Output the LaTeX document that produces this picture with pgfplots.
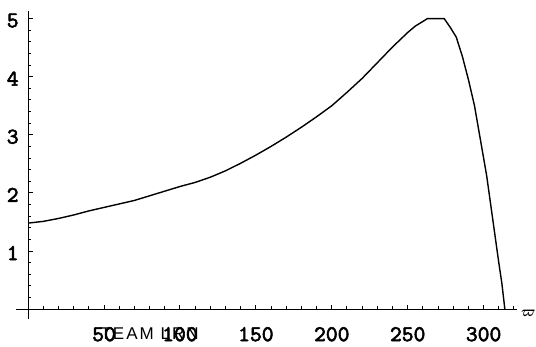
\documentclass[border=0pt]{standalone}
\usepackage{fontspec}
\usepackage{pgfplots}
\pgfplotsset{compat=1.18}
\newfontfamily\arialf{Liberation Sans}[LetterSpace=12]
\newfontfamily\tickf{lmmono10-regular.otf}[FakeBold=2.5]
\begin{document}
\begin{tikzpicture}
\begin{axis}[
 at={(0,0)}, anchor=south west,
 scale only axis, width=501pt, height=308pt,
 xmin=-8, xmax=322, ymin=-0.17, ymax=5.13,
 axis lines=middle, axis line style={-, line width=1.2pt},
 xtick={50,100,...,300}, ytick={1,2,3,4,5},
 minor xtick={10,20,...,320}, minor ytick={0.2,0.4,...,5.0},
 tick align=inside,
 major tick length=4.5pt, minor tick length=3pt,
 every tick/.style={line width=1pt, black},
 /pgf/number format/assume math mode=true,
 ticklabel style={font=\tickf\fontsize{22.5}{22.5}\selectfont},
 xticklabel style={anchor=north, yshift=-14.5pt},
 yticklabel style={anchor=east, xshift=-6pt, yshift=-2pt},
 clip=false,
]
\addplot[black, line width=1.4pt] coordinates {
(0,1.48) (10,1.51) (20,1.56) (30,1.62) (40,1.69) (50,1.75) (60,1.81)
(70,1.87) (80,1.95) (90,2.03) (100,2.11) (110,2.18) (120,2.27) (130,2.38)
(140,2.51) (150,2.65) (160,2.80) (170,2.96) (180,3.13) (190,3.31)
(200,3.50) (210,3.73) (220,3.97) (230,4.24) (240,4.51) (250,4.76)
(255,4.87) (260,4.95) (263,5.0) (274,5.0) (278,4.85) (282,4.68)
(286,4.35) (290,3.95) (294,3.50) (298,2.90) (302,2.30) (306,1.55)
(310,0.80) (312,0.45) (314,0.0)
};
\node[font=\boldmath\fontsize{14}{14}\selectfont, inner sep=0pt] at (axis cs:329.5,-0.08) {$\varpi$};
\node[font=\arialf\fontsize{17}{17}\selectfont] at (axis cs:80,-0.43) {TEAM LRN};
\end{axis}
\pgfresetboundingbox
\path[use as bounding box] (-16pt,-27pt) rectangle (520pt,319pt);
\end{tikzpicture}
\end{document}
